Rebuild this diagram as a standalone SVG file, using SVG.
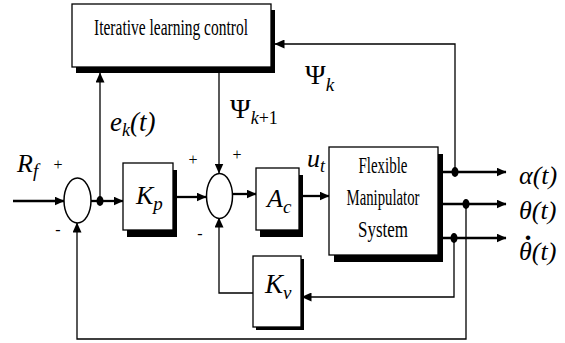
<svg xmlns="http://www.w3.org/2000/svg" width="565" height="343" viewBox="0 0 565 343">
<style>
.box{fill:#fff;stroke:#000;stroke-width:1.3}
.sh{fill:#000}
.sum{fill:#fff;stroke:#000;stroke-width:1.5}
.thick{fill:none;stroke:#000;stroke-width:2.3}
.thin{fill:none;stroke:#000;stroke-width:1.3}
.dot{fill:#000}
text{font-family:"Liberation Serif","Times New Roman",serif;fill:#000}
.m{font-style:italic}
.s{font-size:16px}
</style>
<defs>
<marker id="ah" markerUnits="userSpaceOnUse" markerWidth="10" markerHeight="9" refX="9.5" refY="4.5" orient="auto">
<path d="M0,0 L10,4.5 L0,9 z" fill="#000"/>
</marker>
</defs>
<rect width="565" height="343" fill="#fff"/>

<g id="connectors">
<path class="thick" d="M13 201 H64" marker-end="url(#ah)"/>
<path class="thick" d="M91 201 H123" marker-end="url(#ah)"/>
<path class="thick" d="M177 197 H206" marker-end="url(#ah)"/>
<path class="thick" d="M233 194 H256" marker-end="url(#ah)"/>
<path class="thick" d="M303 196 H329" marker-end="url(#ah)"/>
<path class="thick" d="M443 172 H506" marker-end="url(#ah)"/>
<path class="thick" d="M443 204 H506" marker-end="url(#ah)"/>
<path class="thick" d="M443 238 H506" marker-end="url(#ah)"/>
<path class="thin" d="M455 172 V44 H275" marker-end="url(#ah)"/>
<path class="thin" d="M100 201 V73" marker-end="url(#ah)"/>
<path class="thin" d="M219 73 V173" marker-end="url(#ah)"/>
<path class="thin" d="M454 238 V297 H302" marker-end="url(#ah)"/>
<path class="thin" d="M253 293 H219 V218" marker-end="url(#ah)"/>
<path class="thin" d="M466 204 V339 H77 V223" marker-end="url(#ah)"/>
<ellipse class="dot" cx="100" cy="201" rx="3.5" ry="5"/>
<ellipse class="dot" cx="455" cy="172" rx="3.5" ry="5"/>
<ellipse class="dot" cx="466" cy="204" rx="3.5" ry="5"/>
<ellipse class="dot" cx="454" cy="238" rx="3.5" ry="5"/>
</g>

<g id="ilc">
<rect class="sh" x="76" y="10" width="199" height="63"/>
<rect class="box" x="72" y="4" width="199" height="63"/>
<text x="171" y="35" font-size="24" text-anchor="middle" textLength="154" lengthAdjust="spacingAndGlyphs">Iterative learning control</text>
</g>

<g id="sum1">
<ellipse class="sum" cx="77.5" cy="200.5" rx="13.5" ry="22.5"/>
<text class="s" x="58" y="170" text-anchor="middle">+</text>
<text class="s" x="58" y="235" text-anchor="middle">-</text>
</g>

<g id="kp">
<rect class="sh" x="127" y="170" width="50" height="67"/>
<rect class="box" x="123" y="163" width="50" height="67"/>
<text class="m" x="136" y="204" font-size="26">K<tspan font-size="19" dy="6">p</tspan></text>
</g>

<g id="sum2">
<ellipse class="sum" cx="219.5" cy="196" rx="13" ry="22.5"/>
<text class="s" x="193" y="165" text-anchor="middle">+</text>
<text class="s" x="237" y="160" text-anchor="middle">+</text>
<text class="s" x="200" y="239" text-anchor="middle">-</text>
</g>

<g id="ac">
<rect class="sh" x="260" y="175" width="43" height="62"/>
<rect class="box" x="256" y="168" width="43" height="62"/>
<text class="m" x="267" y="207" font-size="26">A<tspan font-size="19" dy="6">c</tspan></text>
</g>

<g id="fms">
<rect class="sh" x="334" y="154" width="109" height="108"/>
<rect class="box" x="329" y="147" width="109" height="108"/>
<text x="383" y="173" font-size="24" text-anchor="middle" textLength="49" lengthAdjust="spacingAndGlyphs">Flexible</text>
<text x="383" y="205" font-size="24" text-anchor="middle" textLength="73" lengthAdjust="spacingAndGlyphs">Manipulator</text>
<text x="383" y="237" font-size="24" text-anchor="middle" textLength="50" lengthAdjust="spacingAndGlyphs">System</text>
</g>

<g id="kv">
<rect class="sh" x="256" y="259" width="48" height="71"/>
<rect class="box" x="253" y="256" width="48" height="71"/>
<text class="m" x="265" y="293" font-size="27">K<tspan font-size="19" dy="6">v</tspan></text>
</g>

<g id="labels">
<text class="m" x="17" y="172" font-size="26">R<tspan font-size="19" dy="5">f</tspan></text>
<text class="m" x="110" y="131" font-size="27">e<tspan font-size="18" dy="5">k</tspan><tspan dy="-5">(t)</tspan></text>
<text x="230" y="118" font-size="28">Ψ<tspan class="m" font-size="18" dy="6">k</tspan><tspan font-size="18">+1</tspan></text>
<text x="305" y="84" font-size="28">Ψ<tspan class="m" font-size="19" dy="7">k</tspan></text>
<text class="m" x="307" y="167" font-size="26">u<tspan font-size="18" dy="5">t</tspan></text>
<text class="m" x="519" y="184" font-size="26">α(t)</text>
<text class="m" x="519" y="219" font-size="26">θ(t)</text>
<text class="m" font-size="26"><tspan x="523" y="256" font-style="normal" font-weight="bold" font-size="30">˙</tspan><tspan x="519" y="260">θ(t)</tspan></text>
</g>
</svg>
